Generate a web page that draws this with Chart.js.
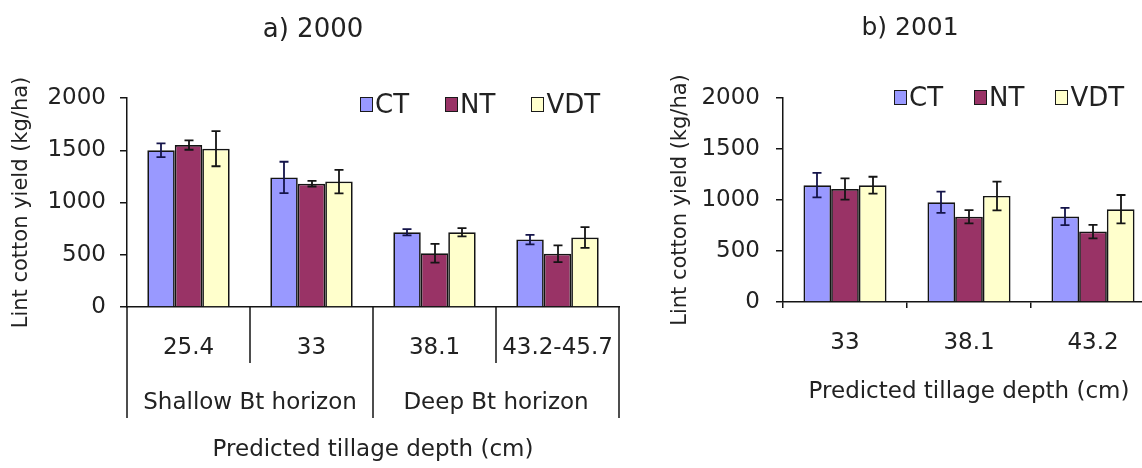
<!DOCTYPE html>
<html>
<head>
<meta charset="utf-8">
<script src="https://cdn.jsdelivr.net/npm/chart.js@4.4.1/dist/chart.umd.min.js"></script>
<style>
  html, body { margin: 0; padding: 0; background: #fff; overflow: hidden; width: 1142px; height: 468px; }
  #wrap { position: relative; width: 1142px; height: 468px; overflow: hidden; }
  #wrap canvas { position: absolute; top: 0; }
  .legend { position: absolute; display: flex; align-items: center; font: 26px "DejaVu Sans", sans-serif; color: #222; white-space: nowrap; }
  .legend .item { display: flex; align-items: center; }
  .legend i { display: inline-block; width: 11px; height: 13px; border: 1.5px solid #1a1a1a; margin-right: 2px; }
</style>
</head>
<body>
<div id="wrap">
  <canvas id="c2000" width="660" height="468" style="left:0"></canvas>
  <canvas id="c2001" width="495" height="468" style="left:665px"></canvas>
  <div class="legend" id="leg2000" style="left:360px; top:89px; gap:36px"></div>
  <div class="legend" id="leg2001" style="left:894px; top:82px; gap:31px"></div>
</div>
<script>
// Lint cotton yield (kg/ha) by predicted tillage depth

const titles = ['a) 2000', 'b) 2001'];
const seriesNames = ['CT', 'NT', 'VDT'];
const seriesColors = ['#9999FF', '#993366', '#FFFFCC'];
const errorColors = ['#14144a', '#151515', '#151515'];

const depths2000 = ['25.4', '33', '38.1', '43.2-45.7'];
const horizons2000 = ['Shallow Bt horizon', 'Deep Bt horizon'];
const ct2000 = [1500, 1240, 715, 645];
const nt2000 = [1550, 1180, 515, 510];
const vdt2000 = [1515, 1200, 715, 665];
const ctErr2000 = [66, 150, 30, 45];
const ntErr2000 = [45, 27, 90, 80];
const vdtErr2000 = [168, 112, 40, 100];

const depths2001 = ['33', '38.1', '43.2'];
const ct2001 = [1145, 978, 838];
const nt2001 = [1108, 835, 690];
const vdt2001 = [1145, 1040, 910];
const ctErr2001 = [120, 104, 85];
const ntErr2001 = [104, 65, 67];
const vdtErr2001 = [83, 141, 139];

const yMin = 0, yMax = 2000, yStep = 500;

const FONT = '"DejaVu Sans", sans-serif';
const TEXT = '#222';
const LINE = '#141414';

// whiskers drawn from the y scale
const errorBars = {
  id: 'errorBars',
  afterDatasetsDraw(chart) {
    const ctx = chart.ctx;
    const y = chart.scales.y;
    chart.data.datasets.forEach((ds, i) => {
      const meta = chart.getDatasetMeta(i);
      meta.data.forEach((bar, j) => {
        const v = ds.data[j], e = ds.errors[j];
        const top = y.getPixelForValue(v + e);
        const bot = y.getPixelForValue(v - e);
        const x = Math.round(bar.x);
        ctx.save();
        ctx.strokeStyle = ds.errorColor;
        ctx.lineWidth = 1.8;
        ctx.beginPath();
        ctx.moveTo(x, top); ctx.lineTo(x, bot);
        ctx.moveTo(x - 4.5, top); ctx.lineTo(x + 4.5, top);
        ctx.moveTo(x - 4.5, bot); ctx.lineTo(x + 4.5, bot);
        ctx.stroke();
        ctx.restore();
      });
    });
  }
};

// table-style dividers under the two-level category axis
const groupLines = {
  id: 'groupLines',
  afterDraw(chart) {
    const x = chart.scales.x, x2 = chart.scales.x2;
    if (!x2) return;
    const ctx = chart.ctx;
    ctx.save();
    ctx.strokeStyle = LINE;
    ctx.lineWidth = 1.5;
    ctx.beginPath();
    for (let i = 0; i <= x.getLabels().length; i++) {
      const px = Math.round(x.getPixelForValue(i - 0.5));
      ctx.moveTo(px, x.top); ctx.lineTo(px, x.bottom);
    }
    for (let i = 0; i <= x2.getLabels().length; i++) {
      const px = Math.round(x2.getPixelForValue(i - 0.5));
      ctx.moveTo(px, x.top); ctx.lineTo(px, x2.top + 55);
    }
    ctx.stroke();
    ctx.restore();
  }
};

function makeDatasets(values, errors) {
  return seriesNames.map((name, i) => ({
    label: name,
    data: values[i],
    errors: errors[i],
    errorColor: errorColors[i],
    backgroundColor: seriesColors[i],
    borderColor: LINE,
    borderWidth: 1.7,
    categoryPercentage: 0.67,
    barPercentage: 1
  }));
}

function yScale(width, tickPad, titlePad) {
  return {
    min: yMin, max: yMax,
    afterFit: (s) => { s.width = width; },
    ticks: { stepSize: yStep, padding: tickPad, color: TEXT, font: { family: FONT, size: 23 }, callback: v => v },
    grid: { drawOnChartArea: false, drawTicks: true, tickLength: 7, color: LINE, lineWidth: 1.5 },
    border: { color: LINE, width: 1.5 },
    title: { display: true, text: 'Lint cotton yield (kg/ha)', color: TEXT, font: { family: FONT, size: 21 }, padding: { top: titlePad, bottom: 0 } }
  };
}

function titleOpts(text, size, top, bottom) {
  return { display: true, text: text, color: TEXT, font: { family: FONT, size: size, weight: 'normal' }, padding: { top: top, bottom: bottom } };
}

const chart2000 = new Chart(document.getElementById('c2000'), {
  type: 'bar',
  data: {
    labels: depths2000,
    datasets: makeDatasets([ct2000, nt2000, vdt2000], [ctErr2000, ntErr2000, vdtErr2000])
  },
  options: {
    responsive: false,
    animation: false,
    devicePixelRatio: 1,
    layout: { padding: { left: 7, right: 41, top: 0, bottom: 4.2 } },
    plugins: {
      legend: { display: false },
      tooltip: { enabled: false },
      title: titleOpts(titles[0], 26, 14.4, 52.4)
    },
    scales: {
      x: {
        offset: true,
        ticks: { padding: 1.2, color: TEXT, font: { family: FONT, size: 23 } },
        grid: { offset: true, drawOnChartArea: false, drawTicks: true, tickLength: 26, color: 'rgba(0,0,0,0)' },
        border: { color: LINE, width: 1.5 }
      },
      x2: {
        type: 'category',
        position: 'bottom',
        labels: horizons2000,
        offset: true,
        ticks: { padding: 0, color: TEXT, font: { family: FONT, size: 23 } },
        grid: { offset: true, drawOnChartArea: false, drawTicks: true, tickLength: 26.2, color: 'rgba(0,0,0,0)' },
        border: { display: false },
        title: { display: true, text: 'Predicted tillage depth (cm)', color: TEXT, font: { family: FONT, size: 23 }, padding: { top: 19.4, bottom: 0 } }
      },
      y: yScale(120, 14, 2.4)
    }
  },
  plugins: [errorBars, groupLines]
});

const chart2001 = new Chart(document.getElementById('c2001'), {
  type: 'bar',
  data: {
    labels: depths2001,
    datasets: makeDatasets([ct2001, nt2001, vdt2001], [ctErr2001, ntErr2001, vdtErr2001])
  },
  options: {
    responsive: false,
    animation: false,
    devicePixelRatio: 1,
    layout: { padding: { left: 0, right: 5, top: 0, bottom: 62.4 } },
    plugins: {
      legend: { display: false },
      tooltip: { enabled: false },
      title: titleOpts(titles[1], 25, 13, 55)
    },
    scales: {
      x: {
        offset: true,
        ticks: { padding: 21.2, color: TEXT, font: { family: FONT, size: 23 } },
        grid: { offset: true, drawOnChartArea: false, drawTicks: true, tickLength: 6, color: LINE, lineWidth: 1.5 },
        border: { color: LINE, width: 1.5 },
        title: { display: true, text: 'Predicted tillage depth (cm)', color: TEXT, font: { family: FONT, size: 23 }, padding: { top: 0, bottom: 0 } }
      },
      y: yScale(118, 16, 3.4)
    }
  },
  plugins: [errorBars]
});

// html legends built from the chart datasets
function buildLegend(chart, id) {
  const el = document.getElementById(id);
  chart.data.datasets.forEach(ds => {
    const item = document.createElement('span');
    item.className = 'item';
    const box = document.createElement('i');
    box.style.background = ds.backgroundColor;
    item.appendChild(box);
    item.appendChild(document.createTextNode(ds.label));
    el.appendChild(item);
  });
}
buildLegend(chart2000, 'leg2000');
buildLegend(chart2001, 'leg2001');
</script>
</body>
</html>
